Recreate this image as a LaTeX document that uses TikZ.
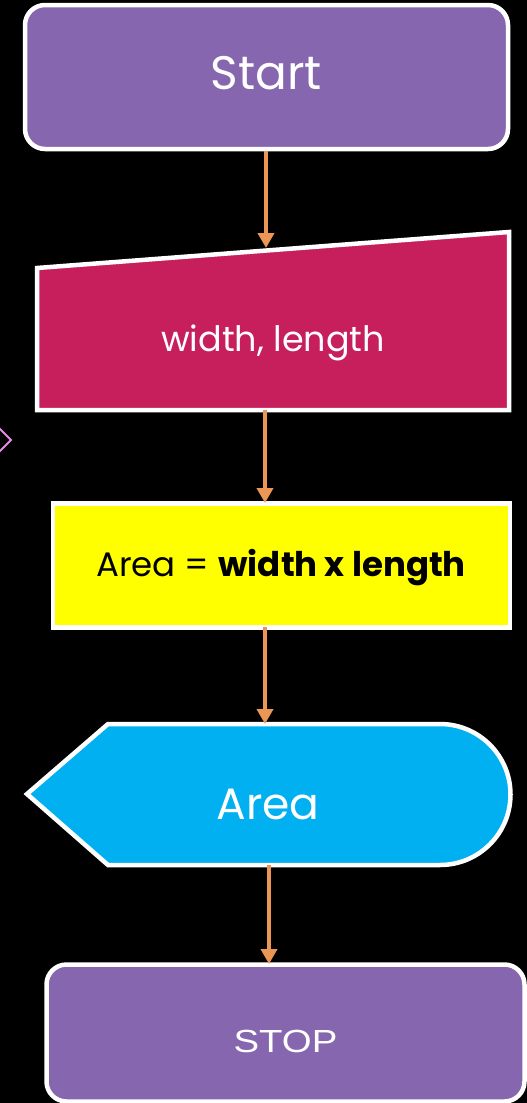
\documentclass[tikz,border=0pt]{standalone}
\usepackage{fontspec}
\setmainfont{Poppins}
\newfontfamily\stopfont{Liberation Sans}
\usetikzlibrary{arrows.meta}

\definecolor{boxpurple}{RGB}{134,102,175}
\definecolor{boxcrimson}{RGB}{199,31,92}
\definecolor{boxcyan}{RGB}{0,176,240}
\definecolor{boxyellow}{RGB}{255,255,0}
\definecolor{arroworange}{RGB}{235,150,85}
\definecolor{markpink}{RGB}{228,140,228}

\begin{document}
\begin{tikzpicture}[x=1pt, y=-1pt]
    % Define styles
    \tikzset{
        terminal/.style={draw=white, line width=4.5pt, fill=boxpurple, rounded corners=20pt, text=white},
        shapeline/.style={draw=white, line width=4.5pt, line join=miter},
        process/.style={draw=white, line width=4.5pt, fill=boxyellow, text=black},
        flowarrow/.style={arroworange, line width=4.5pt, -{Triangle[length=15pt, width=16pt]}}
    }

    % Background
    \fill[black] (0,0) rectangle (527,1103);
    \useasboundingbox (0,0) rectangle (527,1103);

    % Stray marker at the left edge
    \draw[markpink, line width=2pt] (-2,427) -- (11,440) -- (-2,453);

    % Start
    \node[terminal, minimum width=483pt, minimum height=144pt] (start) at (266.5,77) {};
    \node[text=white, font=\fontsize{47}{47}\selectfont] (starttext) at (266.5,73) {Start};

    % Manual input
    \fill[boxcrimson] (37,268) -- (509,232) -- (509,410) -- (37,410) -- cycle;
    \draw[shapeline] (37,268) -- (509,232) -- (509,410) -- (37,410) -- cycle;
    \node[text=white, font=\fontsize{35}{35}\selectfont] (input) at (273,343) {width, length};
    \coordinate (inputN) at (266,248);
    \coordinate (inputS) at (265,410);

    % Process
    \node[process, minimum width=457pt, minimum height=124pt] (proc) at (281.5,565.5) {};
    \node[font=\fontsize{34}{34}\selectfont] (proctext) at (281,568) {Area = \textbf{width x length}};
    \coordinate (procN) at (265,503);
    \coordinate (procS) at (265,627);

    % Display
    \fill[boxcyan] (27,794) -- (108,724) -- (440,724) arc[start angle=-90, end angle=90, radius=70.5] -- (108,865) -- cycle;
    \draw[shapeline] (27,794) -- (108,724) -- (440,724) arc[start angle=-90, end angle=90, radius=70.5] -- (108,865) -- cycle;
    \node[text=white, font=\fontsize{44}{44}\selectfont] (output) at (268,804) {Area};
    \coordinate (outputN) at (265,724);
    \coordinate (outputS) at (269,865);

    % Stop
    \node[terminal, minimum width=478pt, minimum height=137pt] (stop) at (285.5,1033) {};
    \node[text=white, font=\stopfont\fontsize{32}{32}\selectfont] (stoptext) at (285.5,1041) {\scalebox{1.2}[1]{STOP}};
    \coordinate (stopN) at (269,964);

    % Connectors
    \draw[flowarrow] (start.south -| inputN) -- (inputN);
    \draw[flowarrow] (inputS) -- (procN);
    \draw[flowarrow] (procS) -- (outputN);
    \draw[flowarrow] (outputS) -- (stopN);
\end{tikzpicture}
\end{document}
